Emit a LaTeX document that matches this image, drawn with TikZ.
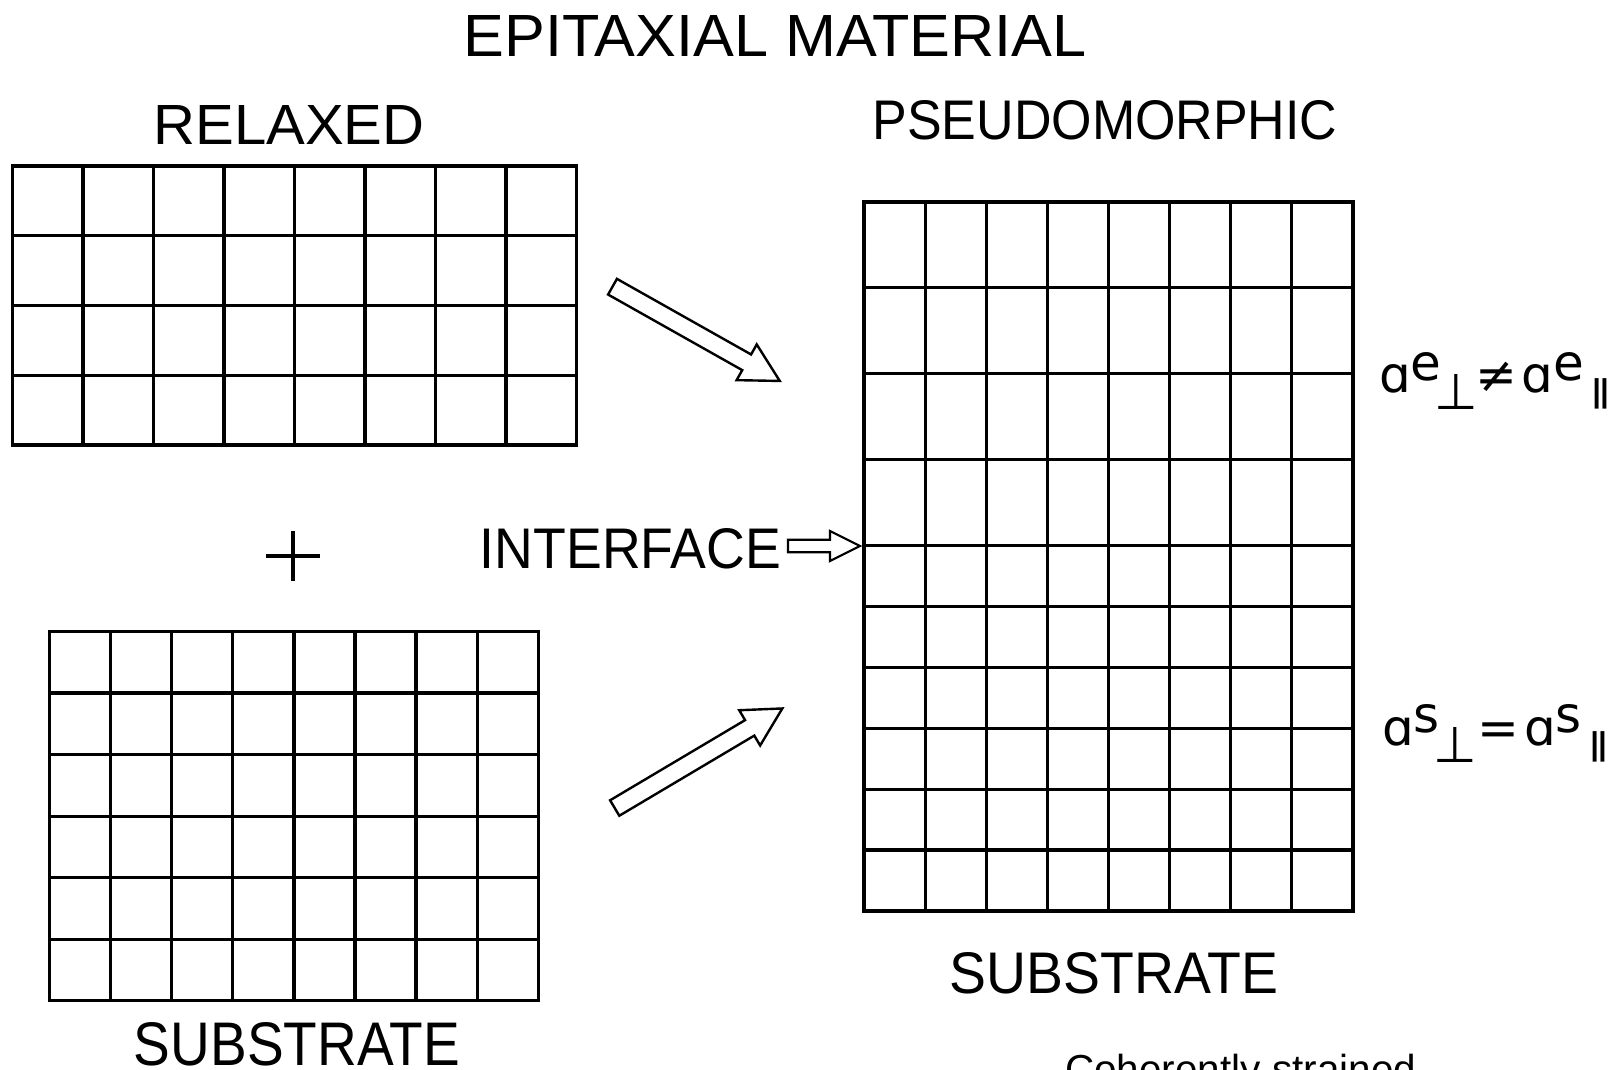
\documentclass[tikz,border=0pt]{standalone}
\usepackage{graphicx}
\usepackage{fontspec}
\setmainfont{Liberation Sans}
\newfontfamily\symfont{DejaVu Sans}
\usetikzlibrary{calc}
\newcommand\fitlab[3]{\resizebox{#1pt}{#2pt}{\fontsize{50}{50}\selectfont #3}}
\newcommand\parbar{\raisebox{-10pt}{\scalebox{1}[0.62]{∥}}}
\tikzset{
  gridline/.style={line width=3.2pt, line cap=rect},
  lab/.style={inner sep=0pt, outer sep=0pt},
  hollow/.style={draw, line width=2.4pt, fill=white, line join=miter},
}
\begin{document}
\begin{tikzpicture}[x=1pt,y=-1pt]
\useasboundingbox (0,0) rectangle (1623,1070);
\fill[white] (0,0) rectangle (1623,1070);
\clip (0,0) rectangle (1623,1070);

% ---- relaxed epitaxial lattice (8 x 4)
\foreach \i in {0,...,8}
  \draw[gridline] ({12.5+\i*70.5},166) -- ({12.5+\i*70.5},445);
\foreach \j in {0,...,4}
  \draw[gridline] (12.5,{166+\j*69.75}) -- (576.5,{166+\j*69.75});

% ---- substrate lattice (8 x 6)
\foreach \i in {0,...,8}
  \draw[gridline] ({49.7+\i*61.06},631.4) -- ({49.7+\i*61.06},1000.8);
\foreach \j in {0,...,6}
  \draw[gridline] (49.7,{631.4+\j*61.57}) -- (538.2,{631.4+\j*61.57});

% ---- pseudomorphic lattice (8 columns, 4 tall rows + 6 rows)
\coordinate (ifc) at (864,545.5);
\foreach \i in {0,...,8}
  \draw[gridline] ({864+\i*61.125},202) -- ({864+\i*61.125},911);
\foreach \j in {0,...,4}
  \draw[gridline] (864,{202+\j*85.875}) -- (1353,{202+\j*85.875});
\foreach \j in {1,...,6}
  \draw[gridline] (864,{545.5+\j*60.917}) -- (1353,{545.5+\j*60.917});

% ---- labels
\node[lab] (title) at (775,36) {\fitlab{623}{41}{EPITAXIAL MATERIAL}};
\node[lab] (relaxed) at (289,125) {\fitlab{271}{39}{RELAXED}};
\node[lab] (pseudo) at (1105,120.5) {\fitlab{465}{39}{PSEUDOMORPHIC}};
\node[lab] (iface) at (630.5,549) {\fitlab{301}{40}{INTERFACE}};
\node[lab] (subl) at (297,1044) {\fitlab{326}{43}{SUBSTRATE}};
\node[lab] (subr) at (1114,973) {\fitlab{328}{41}{SUBSTRATE}};

% plus sign
\coordinate (plus) at (293,556);
\draw[line width=3.5pt] ($(plus)+(-27,0)$) -- ($(plus)+(27,0)$);
\draw[line width=3.5pt] ($(plus)+(0,-25)$) -- ($(plus)+(0,25)$);

% lattice-constant relations
\node[lab, anchor=base west] (ae) at (1379,392)
  {\symfont\fontsize{50}{50}\selectfont ɑ\raisebox{12pt}{e}\kern-7pt\raisebox{-17pt}{⊥}\kern-3pt≠\kern5pt ɑ\raisebox{12pt}{e}\kern4pt\parbar};
\node[lab, anchor=base west] (as) at (1382,745)
  {\symfont\fontsize{50}{50}\selectfont ɑ\raisebox{13pt}{s}\kern-6pt\raisebox{-17pt}{⊥}=\kern5pt ɑ\raisebox{13pt}{s}\kern4pt\parbar};

% caption (cut by the lower edge)
\node[lab, anchor=base west] (coh) at (1065,1083)
  {\fontsize{40.5}{40.5}\selectfont Coherently strained};

% ---- hollow block arrows
\begin{scope}[shift={(612.5,286.7)}, rotate=-29.4]
  \draw[hollow] (0,9) -- (154,9) -- (154,20.5) -- (192,0) -- (154,-20.5) -- (154,-9) -- (0,-9) -- cycle;
\end{scope}
\begin{scope}[shift={(614.7,808)}, rotate=30.7]
  \draw[hollow] (0,9) -- (157,9) -- (157,20.5) -- (195,0) -- (157,-20.5) -- (157,-9) -- (0,-9) -- cycle;
\end{scope}
% interface arrow from the label to the interface line
\begin{scope}[shift={($(iface.east)+(7,-3)$)}]
  \draw[hollow, line width=2.2pt] (0,-6.3) -- (42,-6.3) -- (42,-15) -- (72,0) -- (42,15) -- (42,6.3) -- (0,6.3) -- cycle;
\end{scope}
\end{tikzpicture}
\end{document}
